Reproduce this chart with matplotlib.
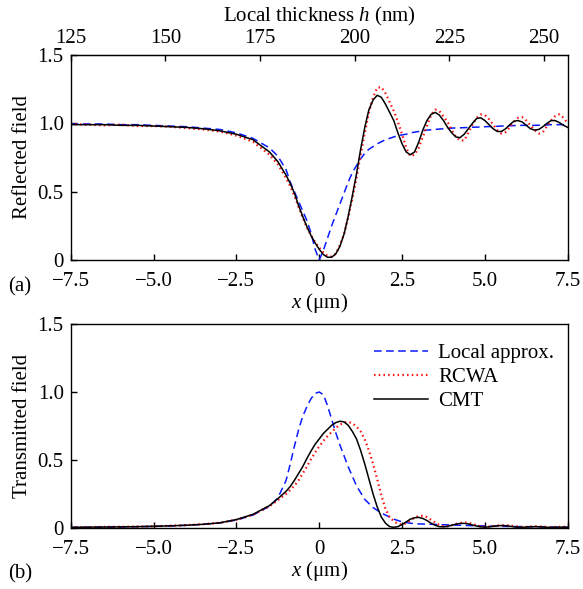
"""Reflected / transmitted field: local approximation vs RCWA vs CMT."""
import matplotlib
matplotlib.use("Agg")
import matplotlib.pyplot as plt  # noqa: E402

plt.rcParams["font.family"] = ["Liberation Serif", "DejaVu Serif"]
plt.rcParams["font.size"] = 15
plt.rcParams["mathtext.fontset"] = "custom"
plt.rcParams["mathtext.rm"] = "Liberation Serif"
plt.rcParams["mathtext.it"] = "Liberation Serif:italic"
plt.rcParams["lines.scale_dashes"] = False

# position x (um): coarse on the flat left side, fine where the curves oscillate
x_um = [-7.5, -7.0, -6.5, -6.0, -5.5, -5.0, -4.5, -4.0, -3.5, -3.0, -2.5, -2.0, -1.5,
        -1.25, -1.0, -0.875, -0.75, -0.625, -0.5, -0.375, -0.25, -0.125,
        0.0, 0.125, 0.25, 0.375, 0.5, 0.625, 0.75, 0.875,
        1.0, 1.125, 1.25, 1.375, 1.5, 1.625, 1.75, 1.875,
        2.0, 2.125, 2.25, 2.375, 2.5, 2.625, 2.75, 2.875,
        3.0, 3.125, 3.25, 3.375, 3.5, 3.625, 3.75, 3.875,
        4.0, 4.125, 4.25, 4.375, 4.5, 4.625, 4.75, 4.875,
        5.0, 5.125, 5.25, 5.375, 5.5, 5.625, 5.75, 5.875,
        6.0, 6.125, 6.25, 6.375, 6.5, 6.625, 6.75, 6.875,
        7.0, 7.125, 7.25, 7.375, 7.5]

# (a) reflected field
refl_local = [0.995, 0.995, 0.995, 0.99, 0.99, 0.985, 0.98, 0.975, 0.965, 0.955, 0.93, 0.89, 0.82,
              0.76, 0.66, 0.57, 0.50, 0.43, 0.36, 0.29, 0.20, 0.08,
              0.0, 0.07, 0.16, 0.25, 0.33, 0.41, 0.49, 0.57,
              0.64, 0.69, 0.74, 0.78, 0.81, 0.83, 0.85, 0.865,
              0.88, 0.89, 0.90, 0.91, 0.915, 0.92, 0.93, 0.935,
              0.94, 0.945, 0.95, 0.952, 0.955, 0.958, 0.96, 0.962,
              0.965, 0.966, 0.967, 0.968, 0.97, 0.971, 0.972, 0.973,
              0.975, 0.976, 0.977, 0.978, 0.98, 0.981, 0.982, 0.983,
              0.985, 0.985, 0.985, 0.985, 0.985, 0.986, 0.987, 0.988,
              0.99, 0.99, 0.99, 0.99, 0.99]
refl_rcwa = [0.995, 0.99, 0.985, 0.99, 0.98, 0.98, 0.975, 0.965, 0.955, 0.94, 0.91, 0.865, 0.77,
             0.70, 0.60, 0.54, 0.47, 0.39, 0.31, 0.24, 0.18, 0.13,
             0.09, 0.055, 0.03, 0.025, 0.045, 0.11, 0.19, 0.31,
             0.45, 0.60, 0.77, 0.93, 1.08, 1.19, 1.26, 1.265,
             1.22, 1.155, 1.09, 1.01, 0.92, 0.82, 0.76, 0.77,
             0.82, 0.90, 0.98, 1.06, 1.10, 1.09, 1.05, 1.01,
             0.95, 0.90, 0.875, 0.875, 0.93, 0.99, 1.04, 1.065,
             1.06, 1.03, 0.99, 0.95, 0.925, 0.935, 0.97, 1.01,
             1.04, 1.045, 1.02, 0.985, 0.95, 0.925, 0.935, 0.98,
             1.02, 1.055, 1.065, 1.04, 1.0]
refl_cmt = [0.99, 0.99, 0.99, 0.985, 0.985, 0.98, 0.975, 0.97, 0.96, 0.945, 0.92, 0.88, 0.79,
            0.72, 0.62, 0.56, 0.49, 0.40, 0.32, 0.245, 0.18, 0.125,
            0.078, 0.04, 0.02, 0.02, 0.045, 0.10, 0.19, 0.32,
            0.47, 0.63, 0.81, 0.97, 1.10, 1.17, 1.205, 1.19,
            1.14, 1.08, 1.02, 0.93, 0.85, 0.79, 0.77, 0.79,
            0.86, 0.95, 1.02, 1.065, 1.08, 1.06, 1.02, 0.97,
            0.93, 0.90, 0.895, 0.92, 0.96, 1.00, 1.035, 1.04,
            1.02, 0.99, 0.96, 0.94, 0.94, 0.96, 0.99, 1.015,
            1.02, 1.01, 0.985, 0.96, 0.95, 0.955, 0.975, 1.00,
            1.02, 1.02, 1.005, 0.985, 0.97]

# (b) transmitted field
trans_local = [0.004, 0.005, 0.006, 0.007, 0.009, 0.012, 0.015, 0.02, 0.027, 0.037, 0.058, 0.095, 0.16,
               0.22, 0.35, 0.47, 0.60, 0.72, 0.82, 0.89, 0.95, 0.99,
               1.0, 0.98, 0.90, 0.80, 0.70, 0.61, 0.53, 0.45,
               0.38, 0.31, 0.26, 0.21, 0.18, 0.15, 0.13, 0.11,
               0.095, 0.08, 0.065, 0.055, 0.045, 0.04, 0.035, 0.032,
               0.03, 0.029, 0.028, 0.027, 0.026, 0.025, 0.024, 0.023,
               0.022, 0.021, 0.02, 0.019, 0.018, 0.017, 0.016, 0.016,
               0.015, 0.014, 0.014, 0.013, 0.012, 0.012, 0.011, 0.011,
               0.01, 0.01, 0.009, 0.009, 0.008, 0.008, 0.008, 0.007,
               0.007, 0.007, 0.006, 0.006, 0.006]
trans_rcwa = [0.005, 0.006, 0.008, 0.009, 0.01, 0.013, 0.016, 0.021, 0.028, 0.038, 0.06, 0.097, 0.16,
              0.205, 0.25, 0.28, 0.31, 0.35, 0.40, 0.45, 0.505, 0.555,
              0.60, 0.64, 0.675, 0.705, 0.735, 0.76, 0.775, 0.78,
              0.77, 0.745, 0.71, 0.65, 0.57, 0.47, 0.36, 0.24,
              0.14, 0.08, 0.05, 0.03, 0.025, 0.035, 0.055, 0.075,
              0.088, 0.09, 0.08, 0.06, 0.04, 0.022, 0.012, 0.012,
              0.02, 0.03, 0.037, 0.04, 0.038, 0.03, 0.02, 0.012,
              0.008, 0.01, 0.014, 0.018, 0.02, 0.02, 0.018, 0.015,
              0.01, 0.008, 0.008, 0.01, 0.012, 0.012, 0.01, 0.008,
              0.006, 0.007, 0.008, 0.008, 0.007]
trans_cmt = [0.005, 0.006, 0.007, 0.008, 0.01, 0.012, 0.016, 0.02, 0.027, 0.038, 0.062, 0.10, 0.165,
             0.215, 0.27, 0.305, 0.35, 0.40, 0.45, 0.51, 0.565, 0.615,
             0.655, 0.695, 0.725, 0.755, 0.775, 0.785, 0.78, 0.755,
             0.71, 0.655, 0.57, 0.47, 0.36, 0.25, 0.155, 0.08,
             0.035, 0.01, 0.005, 0.01, 0.025, 0.045, 0.065, 0.075,
             0.078, 0.07, 0.055, 0.035, 0.02, 0.01, 0.008, 0.012,
             0.02, 0.028, 0.033, 0.034, 0.03, 0.022, 0.014, 0.008,
             0.006, 0.008, 0.012, 0.016, 0.018, 0.017, 0.013, 0.008,
             0.005, 0.005, 0.007, 0.009, 0.01, 0.009, 0.007, 0.005,
             0.004, 0.005, 0.006, 0.006, 0.005]

x_ticks = [-7.5, -5.0, -2.5, 0.0, 2.5, 5.0, 7.5]
x_ticklabels = ["\u22127.5", "\u22125.0", "\u22122.5", "0", "2.5", "5.0", "7.5"]
y_ticks = [0, 0.5, 1.0, 1.5]
y_ticklabels = ["0", "0.5", "1.0", "1.5"]
h_ticks = [125, 150, 175, 200, 225, 250]
H0, H_SLOPE = 125.0, 8.75  # local thickness h (nm) = H0 + H_SLOPE * (x + 7.5)


def x_to_h(x):
    return H0 + H_SLOPE * (x + 7.5)


def h_to_x(h):
    return (h - H0) / H_SLOPE - 7.5


def draw(ax, local, rcwa, cmt):
    ax.plot(x_um, local, color="#0a1aff", lw=1.1, dashes=[5.5, 3.2], label="Local approx.")
    ax.plot(x_um, rcwa, color="#ff1010", lw=1.6, dashes=[1.1, 2.3], label="RCWA")
    ax.plot(x_um, cmt, color="black", lw=1.1, label="CMT")
    ax.set_xlim(-7.5, 7.5)
    ax.set_ylim(0, 1.5)
    ax.set_xticks(x_ticks)
    ax.set_xticklabels(x_ticklabels)
    ax.set_yticks(y_ticks)
    ax.set_yticklabels(y_ticklabels)
    ax.tick_params(direction="in", length=4, width=1, top=False, right=False, pad=5)
    ax.tick_params(axis="x", pad=9)
    ax.set_xlabel(r"$x$ (μm)", labelpad=0)
    for s in ax.spines.values():
        s.set_linewidth(1.0)


fig = plt.figure(figsize=(5.83, 5.89), dpi=100)
ax1 = fig.add_axes([0.1213, 0.5586, 0.8525, 0.3481])
ax2 = fig.add_axes([0.1213, 0.1036, 0.8525, 0.3463])

draw(ax1, refl_local, refl_rcwa, refl_cmt)
ax1.set_ylabel("Reflected field", labelpad=4)
sec = ax1.secondary_xaxis("top", functions=(x_to_h, h_to_x))
sec.set_xticks(h_ticks)
sec.tick_params(direction="in", length=4, width=1, pad=5)
sec.set_xlabel(r"Local thickness $h$ (nm)", labelpad=5.5)

draw(ax2, trans_local, trans_rcwa, trans_cmt)
ax2.set_ylabel("Transmitted field", labelpad=4)
ax2.legend(loc="upper right", bbox_to_anchor=(0.99, 0.945), frameon=False,
           handlelength=2.6, handletextpad=0.5, labelspacing=0.22, borderaxespad=0)

fig.text(0.014, 1 - 287 / 589, "(a)", va="center", ha="left")
fig.text(0.014, 1 - 574 / 589, "(b)", va="center", ha="left")

fig.savefig("out.png", dpi=100)
plt.close(fig)
